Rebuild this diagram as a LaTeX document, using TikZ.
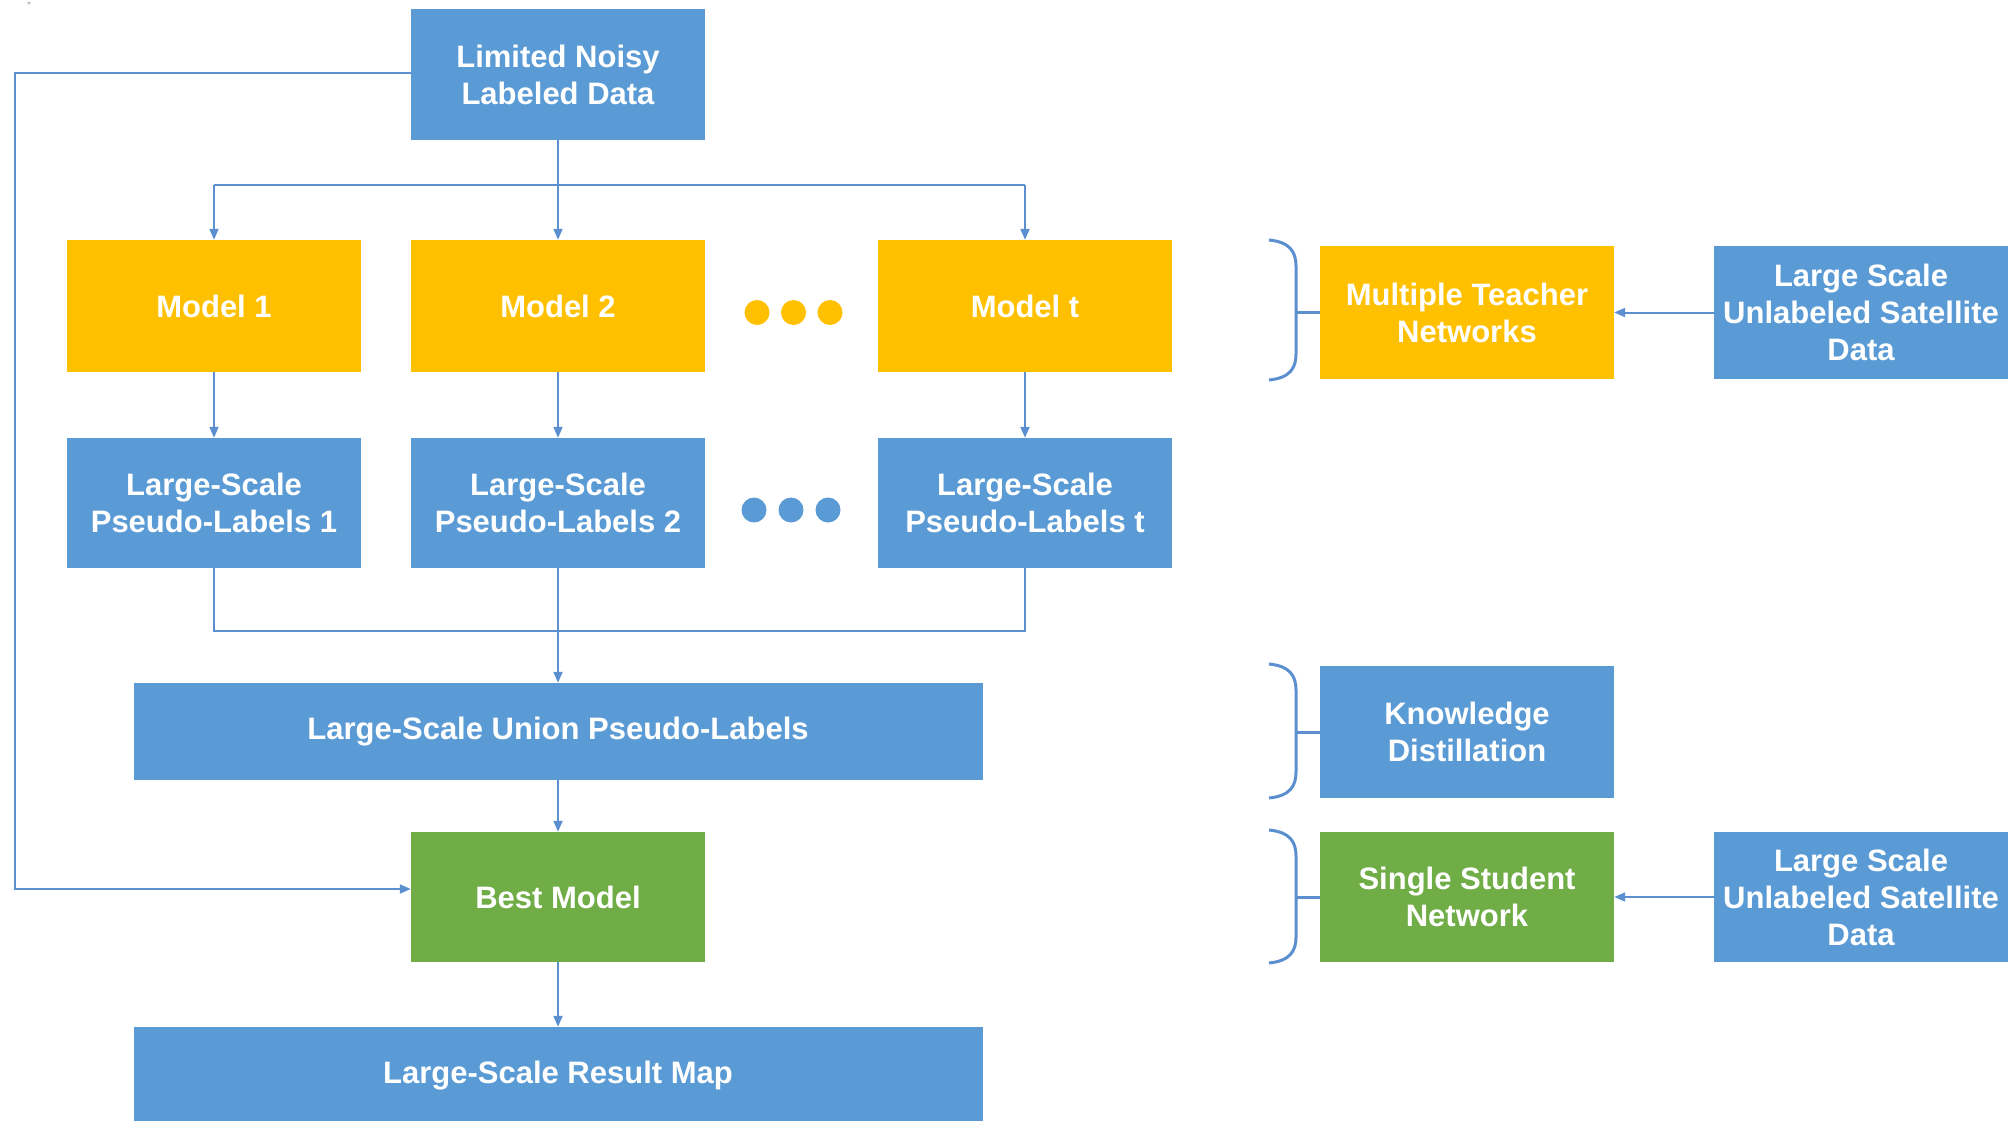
\documentclass[tikz,border=0pt]{standalone}
\usepackage{fontspec}
\setmainfont{Liberation Sans}
\usetikzlibrary{arrows.meta}
\definecolor{cblue}{HTML}{5B9BD5}
\definecolor{cyel}{HTML}{FFC000}
\definecolor{cgreen}{HTML}{70AD47}
\definecolor{cline}{HTML}{5B8FD0}
\begin{document}
\begin{tikzpicture}[x=1pt,y=-1pt,
  bx/.style={fill=#1, text=white, font=\bfseries\fontsize{31}{37}\selectfont, align=center, inner sep=0pt},
  small/.style={minimum width=294, minimum height=132},
  wide/.style={minimum width=849, minimum height=97},
  conn/.style={draw=cline, line width=2pt},
  arr/.style={conn, -{Triangle[length=11pt,width=9pt]}},
  brace/.style={draw=cline, line width=3pt},
  dot/.style={circle, fill=#1, minimum size=25, inner sep=0pt}]
\useasboundingbox (0,0) rectangle (2012,1121);
\node[font=\fontsize{10}{10}\selectfont, text=gray] (mark) at (29,6) {''};
% boxes
\node[bx=cblue, small, minimum height=131] (ln) at (558,74.5) {Limited Noisy\\Labeled Data};
\node[bx=cyel, small] (m1) at (214,306) {Model 1};
\node[bx=cyel, small] (m2) at (558,306) {Model 2};
\node[bx=cyel, small] (mt) at (1025,306) {Model t};
\node[bx=cblue, small, minimum height=130] (p1) at (214,503) {Large-Scale\\Pseudo-Labels 1};
\node[bx=cblue, small, minimum height=130] (p2) at (558,503) {Large-Scale\\Pseudo-Labels 2};
\node[bx=cblue, small, minimum height=130] (pt) at (1025,503) {Large-Scale\\Pseudo-Labels t};
\node[bx=cblue, wide] (un) at (558,731.5) {Large-Scale Union Pseudo-Labels};
\node[bx=cgreen, small, minimum height=130] (bm) at (558,897) {Best Model};
\node[bx=cblue, wide] (rm) at (558,1075.5) {Large-Scale Result Map};
\node[bx=cyel, small, minimum height=133] (mtn) at (1467,312.5) {Multiple Teacher\\Networks};
\node[bx=cblue, small, minimum height=133] (ls1) at (1861,312.5) {Large Scale\\Unlabeled Satellite\\Data};
\node[bx=cblue, small] (kd) at (1467,732) {Knowledge\\Distillation};
\node[bx=cgreen, small, minimum height=130] (ss) at (1467,897) {Single Student\\Network};
\node[bx=cblue, small, minimum height=130] (ls2) at (1861,897) {Large Scale\\Unlabeled Satellite\\Data};
% dots
\node[dot=cyel] (y1) at (757,312.5) {};
\node[dot=cyel] (y2) at (793.5,312.5) {};
\node[dot=cyel] (y3) at (830,312.5) {};
\node[dot=cblue] (b1) at (754,510) {};
\node[dot=cblue] (b2) at (791,510) {};
\node[dot=cblue] (b3) at (828,510) {};
% connectors
\coordinate (split) at (558,185);
\draw[arr] (ln.south) -- (m2.north);
\draw[conn] (m1.north |- split) -- (mt.north |- split);
\draw[arr] (m1.north |- split) -- (m1.north);
\draw[arr] (mt.north |- split) -- (mt.north);
\draw[arr] (m1.south) -- (p1.north);
\draw[arr] (m2.south) -- (p2.north);
\draw[arr] (mt.south) -- (pt.north);
\coordinate (merge) at (558,631);
\draw[conn] (p1.south) -- (p1.south |- merge) -- (pt.south |- merge) -- (pt.south);
\draw[arr] (p2.south) -- (un.north);
\draw[arr] (un.south) -- (bm.north);
\draw[arr] (bm.south) -- (rm.north);
\coordinate (loopx) at (15,0);
\draw[arr] ([yshift=1]ln.west) -- ([yshift=1]loopx |- ln.west) |- ([yshift=8]bm.west);
\draw[arr] (ls1.west) -- (mtn.east);
\draw[arr] (ls2.west) -- (ss.east);
% braces
\draw[brace] (1269,240) .. controls (1290,242) and (1296,252) .. (1296,266) -- (1296,354) .. controls (1296,368) and (1290,378) .. (1269,380);
\draw[brace] (mtn.west) -- ++(-24,0);
\draw[brace] (1269,664) .. controls (1290,666) and (1296,676) .. (1296,690) -- (1296,772) .. controls (1296,786) and (1290,796) .. (1269,798);
\draw[brace] (kd.west) -- ++(-24,0);
\draw[brace] (1269,830) .. controls (1290,832) and (1296,842) .. (1296,856) -- (1296,937) .. controls (1296,951) and (1290,961) .. (1269,963);
\draw[brace] (ss.west) -- ++(-24,0);
\end{tikzpicture}
\end{document}
